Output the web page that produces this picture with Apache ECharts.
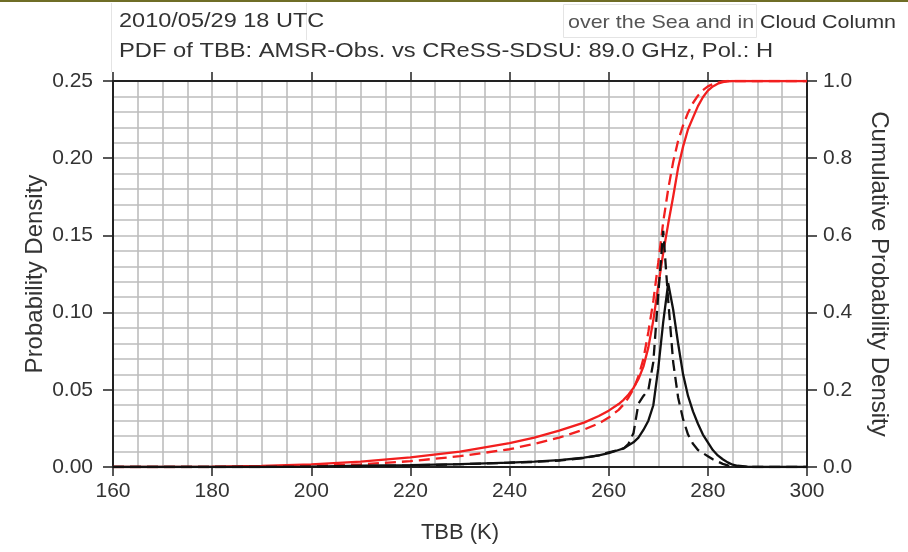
<!DOCTYPE html>
<html>
<head>
<meta charset="utf-8">
<script src="https://cdn.jsdelivr.net/npm/echarts@6/dist/echarts.min.js"></script>
<style>
html,body{margin:0;padding:0;background:#fff;}
#c{width:908px;height:552px;}
</style>
</head>
<body>
<div id="c"></div>
<script>
// TBB (K) sample points
var tbb = [160,170,180,190,200,210,220,230,240,245,250,255,258,260,262,263,264,265,266,267,268,269,270,271,272,273,274,275,276,277,278,279,280,281,282,283,284,285,286,288,290,295,300];
// PDF (black solid)
var pdfSolid = [0,0,0,0,0.0003,0.0008,0.0012,0.0018,0.0028,0.0035,0.0045,0.006,0.0075,0.009,0.011,0.012,0.014,0.016,0.019,0.024,0.030,0.040,0.064,0.094,0.119,0.102,0.080,0.060,0.046,0.036,0.028,0.021,0.016,0.011,0.0075,0.005,0.003,0.0015,0.0008,0.0002,0,0,0];
// PDF (black dashed)
var pdfDashed = [0,0,0,0,0.0002,0.0005,0.001,0.0018,0.0028,0.0033,0.0042,0.0058,0.0075,0.0095,0.011,0.012,0.015,0.022,0.041,0.046,0.050,0.068,0.112,0.153,0.108,0.068,0.045,0.031,0.021,0.015,0.011,0.009,0.007,0.005,0.0035,0.002,0.001,0.0005,0.0002,0,0,0,0];
// Cumulative (red solid)
var cdfSolid = [0,0,0.001,0.003,0.007,0.014,0.025,0.040,0.062,0.076,0.094,0.115,0.132,0.146,0.163,0.174,0.188,0.205,0.228,0.26,0.31,0.38,0.47,0.555,0.63,0.70,0.775,0.83,0.875,0.905,0.935,0.958,0.975,0.986,0.993,0.997,0.999,1,1,1,1,1,1];
// Cumulative (red dashed)
var cdfDashed = [0,0,0,0.001,0.003,0.007,0.015,0.028,0.046,0.060,0.076,0.097,0.113,0.128,0.148,0.162,0.18,0.202,0.235,0.28,0.35,0.43,0.53,0.635,0.72,0.79,0.845,0.885,0.918,0.943,0.962,0.976,0.986,0.992,0.996,0.999,1,1,1,1,1,1,1];

var xTicks = [160,180,200,220,240,260,280,300];
var leftTicks = ['0.00','0.05','0.10','0.15','0.20','0.25'];
var rightTicks = ['0.0','0.2','0.4','0.6','0.8','1.0'];
var titleLine1 = '2010/05/29 18 UTC';
var titleLine2 = 'PDF of TBB: AMSR-Obs. vs CReSS-SDSU: 89.0 GHz, Pol.: H';
var noteA = 'over the Sea and in';
var noteB = 'Cloud Column';

function pairs(ys){ return tbb.map(function(t,i){ return [t, ys[i]]; }); }

var FONT = '"Liberation Sans", Arial, Helvetica, sans-serif';
var gridColor = '#bdbdbd';

var chart = echarts.init(document.getElementById('c'), null, {renderer:'canvas'});
chart.setOption({
  animation:false,
  backgroundColor:'#fff',
  grid:{left:113, right:101, top:81, bottom:85},
  textStyle:{fontFamily:FONT},
  graphic:[
    {type:'rect', shape:{x:0,y:0,width:908,height:2}, style:{fill:'#6f6d26'}, silent:true},
    {type:'line', shape:{x1:111.5,y1:3,x2:111.5,y2:72}, style:{stroke:'#e4e4e4',lineWidth:1}, silent:true},
    {type:'line', shape:{x1:306.5,y1:3,x2:306.5,y2:40}, style:{stroke:'#e4e4e4',lineWidth:1}, silent:true},
    {type:'rect', shape:{x:563.5,y:4.5,width:193,height:33}, style:{fill:'none',stroke:'#e4e4e4',lineWidth:1}, silent:true},
    {type:'text', x:119, y:11, scaleX:1.12, style:{text:titleLine1, font:'21px '+FONT, fill:'#333', verticalAlign:'top'}},
    {type:'text', x:119, y:41, scaleX:1.13, style:{text:titleLine2, font:'21px '+FONT, fill:'#333', verticalAlign:'top'}},
    {type:'text', x:568, y:13, scaleX:1.13, style:{text:noteA, font:'19px '+FONT, fill:'#555', verticalAlign:'top'}},
    {type:'text', x:760, y:13, scaleX:1.13, style:{text:noteB, font:'19px '+FONT, fill:'#333', verticalAlign:'top'}}
  ],
  xAxis:[{
    type:'value', min:160, max:300, interval:20, position:'bottom',
    name:'TBB (K)', nameLocation:'middle', nameGap:55, nameMoveOverlap:false,
    nameTextStyle:{fontSize:22, color:'#333', fontFamily:FONT},
    axisLine:{show:true, onZero:false, lineStyle:{color:'#222', width:2}},
    axisTick:{show:true, inside:false, length:9, lineStyle:{color:'#222', width:1.5}},
    axisLabel:{fontSize:21, color:'#333', margin:14, fontFamily:FONT,
      formatter:function(v){ return xTicks.indexOf(v)>=0 ? String(v) : ''; }},
    splitLine:{show:true, lineStyle:{color:gridColor, width:1.6}},
    minorTick:{show:false, splitNumber:4},
    minorSplitLine:{show:true, lineStyle:{color:gridColor, width:1.6}}
  },{
    type:'value', min:160, max:300, interval:20, position:'top',
    axisLine:{show:true, onZero:false, lineStyle:{color:'#222', width:2}},
    axisTick:{show:true, inside:false, length:9, lineStyle:{color:'#222', width:1.5}},
    axisLabel:{show:false}, splitLine:{show:false}
  }],
  yAxis:[{
    type:'value', min:0, max:0.25, interval:0.05, position:'left',
    name:'Probability Density', nameLocation:'middle', nameGap:66, nameRotate:90, nameMoveOverlap:false,
    nameTextStyle:{fontSize:24, color:'#333', fontFamily:FONT},
    axisLine:{show:true, onZero:false, lineStyle:{color:'#222', width:2}},
    axisTick:{show:true, inside:false, length:10, lineStyle:{color:'#222', width:1.5}},
    axisLabel:{fontSize:21, color:'#333', margin:20, fontFamily:FONT,
      formatter:function(v){ var i=Math.round(v/0.05); return leftTicks[i]; }},
    splitLine:{show:true, lineStyle:{color:gridColor, width:1.6}},
    minorTick:{show:false, splitNumber:5},
    minorSplitLine:{show:true, lineStyle:{color:gridColor, width:1.6}}
  },{
    type:'value', min:0, max:1, interval:0.2, position:'right',
    name:'Cumulative Probability Density', nameLocation:'middle', nameGap:60, nameRotate:-90, nameMoveOverlap:false,
    nameTextStyle:{fontSize:24, color:'#333', fontFamily:FONT},
    axisLine:{show:true, onZero:false, lineStyle:{color:'#222', width:2}},
    axisTick:{show:true, inside:false, length:10, lineStyle:{color:'#222', width:1.5}},
    axisLabel:{fontSize:21, color:'#333', margin:16, fontFamily:FONT,
      formatter:function(v){ var i=Math.round(v/0.2); return rightTicks[i]; }},
    splitLine:{show:false}
  }],
  series:[
    {type:'line', name:'CDF solid', xAxisIndex:0, yAxisIndex:1, data:pairs(cdfSolid), showSymbol:false, symbol:'none',
     lineStyle:{color:'#f21f1f', width:2.3}, z:3},
    {type:'line', name:'CDF dashed', xAxisIndex:0, yAxisIndex:1, data:pairs(cdfDashed), showSymbol:false, symbol:'none',
     lineStyle:{color:'#f21f1f', width:2.3, type:[11,6]}, z:3},
    {type:'line', name:'PDF solid', xAxisIndex:0, yAxisIndex:0, data:pairs(pdfSolid), showSymbol:false, symbol:'none',
     lineStyle:{color:'#111', width:2.3}, z:4},
    {type:'line', name:'PDF dashed', xAxisIndex:0, yAxisIndex:0, data:pairs(pdfDashed), showSymbol:false, symbol:'none',
     lineStyle:{color:'#111', width:2.3, type:[11,6]}, z:4}
  ]
});
</script>
</body>
</html>
